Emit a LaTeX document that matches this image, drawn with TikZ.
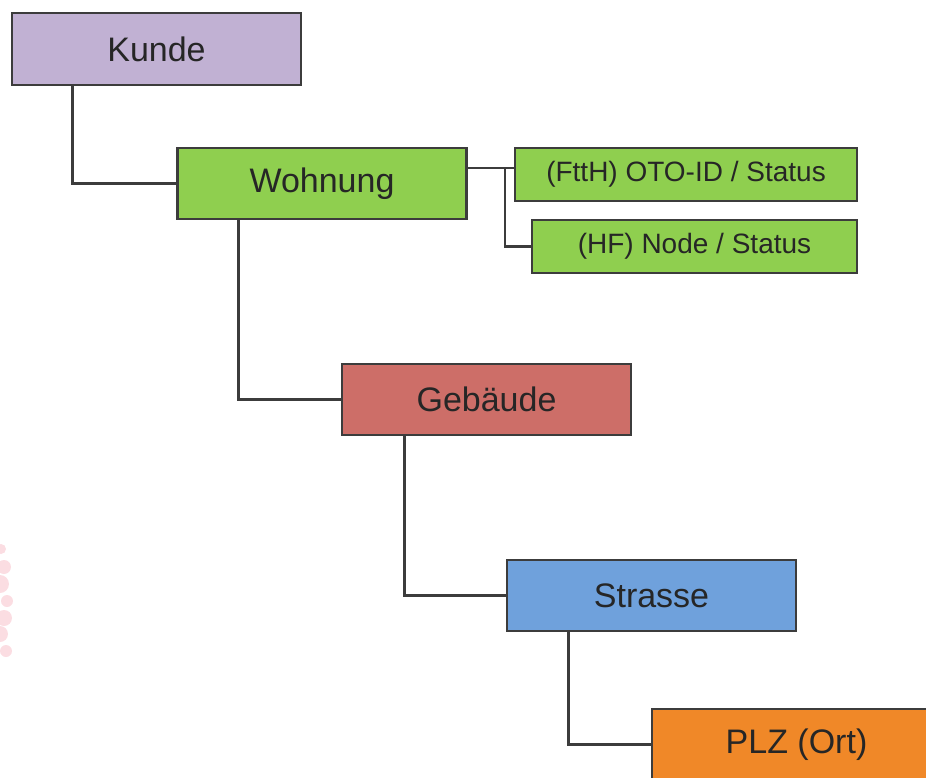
\documentclass[tikz,border=0pt]{standalone}
\usepackage{fontspec}
\setmainfont{Liberation Sans}
\definecolor{kundec}{HTML}{C1B1D3}
\definecolor{wohnc}{HTML}{8FCF4F}
\definecolor{gebc}{HTML}{CD6E68}
\definecolor{strc}{HTML}{6FA1DC}
\definecolor{plzc}{HTML}{F08828}
\definecolor{edgec}{HTML}{3C3C3C}
\definecolor{dotc}{HTML}{FBDDE2}
\begin{document}
\begin{tikzpicture}[x=1pt,y=-1pt,
  bigbox/.style={draw=edgec,line width=2.5pt,minimum width=289pt,minimum height=71pt,inner sep=0pt,font=\fontsize{34}{40}\selectfont,text=black!85},
  smallbox/.style={draw=edgec,line width=2.5pt,minimum height=53pt,inner sep=0pt,font=\fontsize{28}{33}\selectfont,text=black!85},
  link/.style={draw=edgec,line width=2.8pt}]
\useasboundingbox (0,0) rectangle (926,778);
\clip (0,0) rectangle (926,778);
% faint background dots at left edge
\foreach \cx/\cy/\r in {1/549/5pt,4/567/7pt,0/584/9pt,7/601/6pt,4/618/8pt,0/634/8pt,6/651/6pt}
  \fill[dotc] (\cx,\cy) circle[radius=\r];
\node[bigbox,fill=kundec,minimum height=72pt] (kunde) at (156.5,49) {Kunde};
\node[bigbox,fill=wohnc] (wohnung) at (322,183.5) {Wohnung};
\node[smallbox,fill=wohnc,minimum width=342pt] (ftth) at (686,174.5) {(FttH) OTO-ID / Status};
\node[smallbox,fill=wohnc,minimum width=325pt] (hf) at (694.5,246.5) {(HF) Node / Status};
\node[bigbox,fill=gebc] (geb) at (486.5,399.5) {Gebäude};
\node[bigbox,fill=strc] (str) at (651.5,595.5) {Strasse};
\node[bigbox,fill=plzc] (plz) at (796.5,744.5) {PLZ (Ort)};
\coordinate (j1) at (505,168);
\draw[link] ([xshift=62pt]kunde.south west) |- (wohnung.west);
\draw[link] (wohnung.east |- j1) -- (ftth.west |- j1);
\draw[link] (j1) |- (hf.west);
\draw[link] ([xshift=62pt]wohnung.south west) |- (geb.west);
\draw[link] ([xshift=64pt]geb.south west) |- (str.west);
\draw[link] ([xshift=63pt]str.south west) |- (plz.west);
\end{tikzpicture}
\end{document}
